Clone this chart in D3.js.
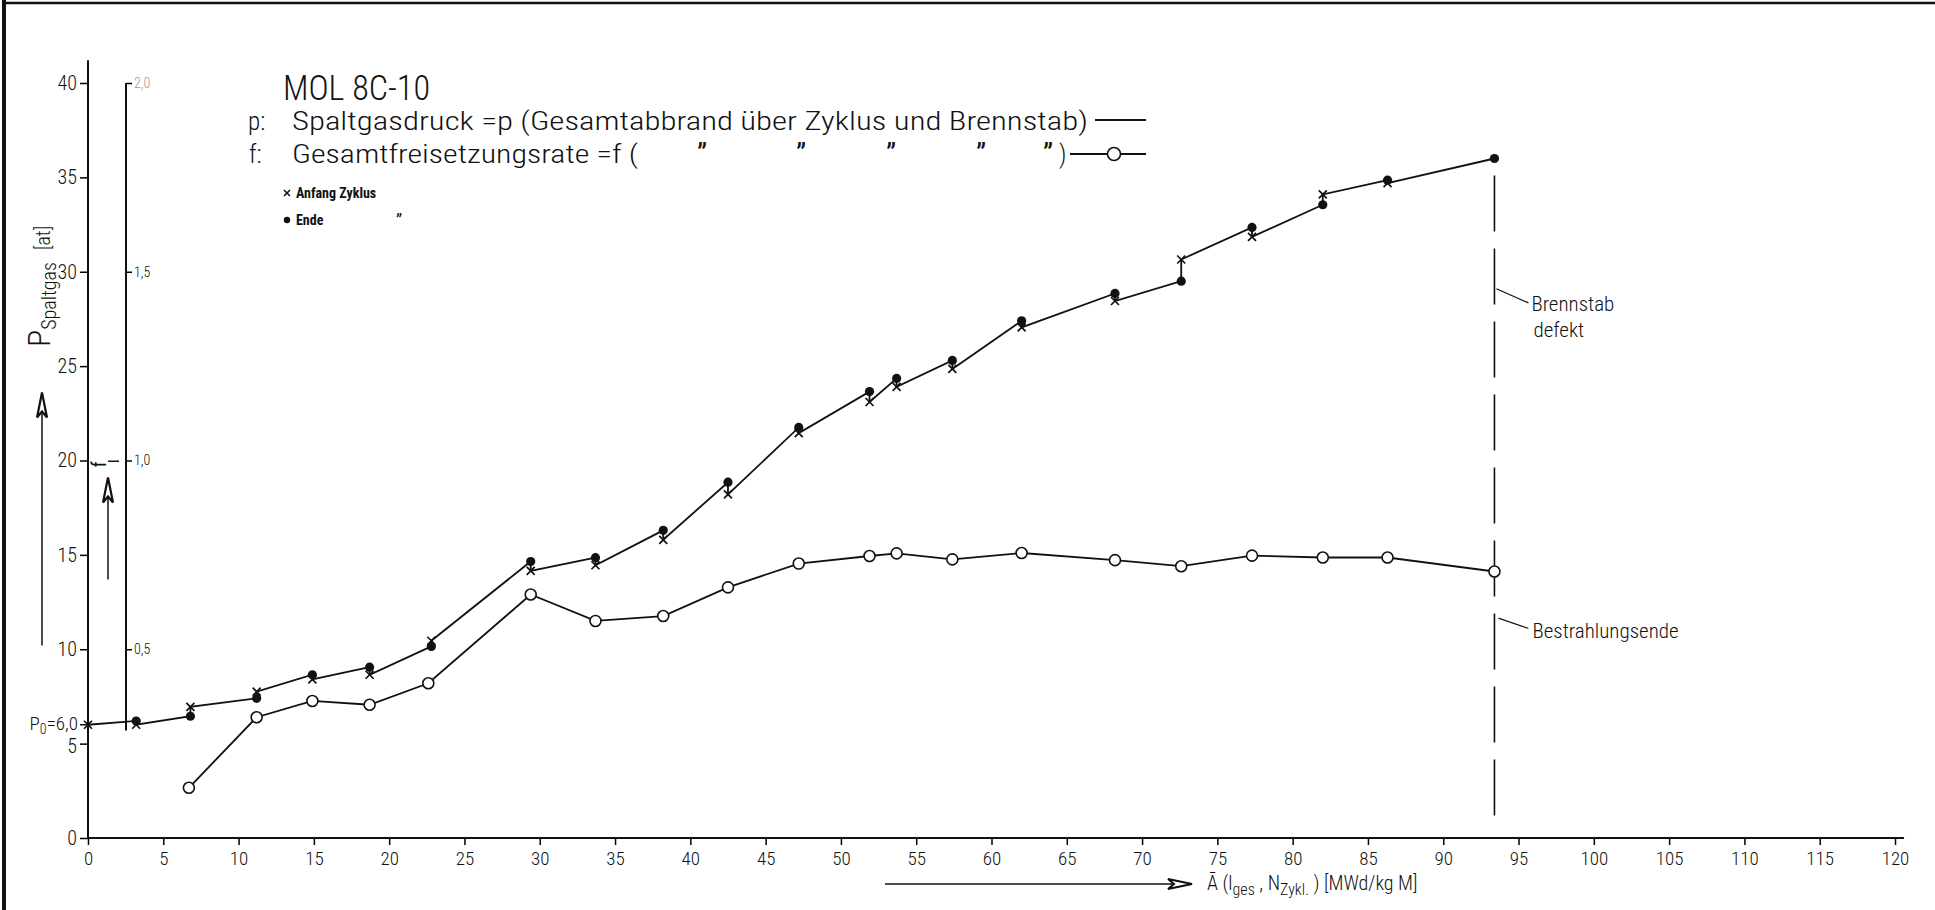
<!DOCTYPE html>
<html>
<head>
<meta charset="utf-8">
<script src="https://cdn.jsdelivr.net/npm/d3@7"></script>
<style>
  body { margin: 0; background: #fff; }
  svg text { font-family: "Roboto Condensed", "Roboto", "DejaVu Sans", sans-serif; font-weight: 300; fill: #111; }
</style>
</head>
<body>
<div id="chart"></div>
<script>
// burnup at every cycle boundary [MWd/kg M]
const burnup = [0, 3.2, 6.8, 11.2, 14.9, 18.7, 22.8, 29.4, 33.7, 38.2, 42.5, 47.2, 51.9, 53.7, 57.4, 62.0, 68.2, 72.6, 77.3, 82.0, 86.3, 93.4];
// fission gas pressure at cycle start (x) and at cycle end (dot) [at]
const pAnfang = [6.0, 6.0, 6.95, 7.75, 8.4, 8.65, 10.45, 14.15, 14.45, 15.8, 18.2, 21.45, 23.1, 23.9, 24.85, 27.05, 28.45, 30.65, 31.85, 34.1, 34.7, null];
const pEnde = [null, 6.2, 6.45, 7.4, 8.65, 9.05, 10.15, 14.65, 14.85, 16.3, 18.85, 21.75, 23.65, 24.35, 25.3, 27.4, 28.85, 29.5, 32.35, 33.55, 34.85, 36.0];
// total release rate f (open circles)
const fBurnup = [6.7, 11.2, 14.9, 18.7, 22.6, 29.4, 33.7, 38.2, 42.5, 47.2, 51.9, 53.7, 57.4, 62.0, 68.2, 72.6, 77.3, 82.0, 86.3, 93.4];
const fValues = [0.133, 0.32, 0.363, 0.353, 0.41, 0.645, 0.575, 0.588, 0.664, 0.727, 0.747, 0.754, 0.738, 0.755, 0.736, 0.72, 0.748, 0.743, 0.743, 0.706];

const xTicks = d3.range(0, 121, 5);
const pTicks = [0, 5, 10, 15, 20, 25, 30, 35, 40];
const fTicks = [0.5, 1.0, 1.5, 2.0];
const p0 = 6.0;            // initial pressure
const burnupEnd = 93.4;    // end of irradiation / rod defect

const svg = d3.select("#chart")
    .append("svg")
    .attr("width", 1935)
    .attr("height", 910);

// scales
const x = d3.scaleLinear().domain([0, 120]).range([88, 1895]);
const y = d3.scaleLinear().domain([0, 40]).range([838, 83]);
const f = d3.scaleLinear().domain([0, 2]).range([838, 83]);

// sheet frame (left + top)
svg.append("line").attr("x1", 4).attr("y1", 0).attr("x2", 4).attr("y2", 910)
    .attr("stroke", "#111").attr("stroke-width", 4);
svg.append("line").attr("x1", 3).attr("y1", 3).attr("x2", 1935).attr("y2", 3)
    .attr("stroke", "#111").attr("stroke-width", 2.5);

// X axis
const xAxis = svg.append("g")
    .attr("transform", "translate(0," + y(0) + ")")
    .call(d3.axisBottom(x).tickValues(xTicks).tickSize(7).tickPadding(7));
xAxis.select(".domain").remove();
xAxis.selectAll("line").attr("stroke-width", 1.5);
xAxis.selectAll("text").style("font-size", "19px");
svg.append("line")
    .attr("x1", x(0)).attr("x2", x(120.6))
    .attr("y1", y(0)).attr("y2", y(0))
    .attr("stroke", "#111").attr("stroke-width", 2);

// Y axis (pressure)
const yAxis = svg.append("g")
    .attr("transform", "translate(" + x(0) + ",0)")
    .call(d3.axisLeft(y).tickValues(pTicks).tickSize(8).tickPadding(3));
yAxis.select(".domain").remove();
yAxis.selectAll("line").attr("stroke-width", 1.5);
yAxis.selectAll("text").style("font-size", "20px");
yAxis.selectAll(".tick").filter(d => d === 5).select("text").attr("dy", "0.45em");
svg.append("line")
    .attr("x1", x(0)).attr("x2", x(0))
    .attr("y1", y(0)).attr("y2", y(41.2))
    .attr("stroke", "#111").attr("stroke-width", 2);

// P0 marker on the pressure axis
svg.append("line")
    .attr("x1", x(0) - 8).attr("x2", x(0))
    .attr("y1", y(p0)).attr("y2", y(p0))
    .attr("stroke", "#111").attr("stroke-width", 1.5);
const p0Label = svg.append("text")
    .attr("x", x(0) - 10).attr("y", y(p0) + 5)
    .attr("text-anchor", "end")
    .style("font-size", "19px");
p0Label.append("tspan").text("P");
p0Label.append("tspan").attr("dy", 4).style("font-size", "14px").text("0");
p0Label.append("tspan").attr("dy", -4).text("=6,0");

// f axis (release rate)
const fX = 126;
const fAxis = svg.append("g")
    .attr("transform", "translate(" + fX + ",0)")
    .call(d3.axisRight(f).tickValues(fTicks).tickSize(6).tickPadding(2)
        .tickFormat(d => d3.format(".1f")(d).replace(".", ",")));
fAxis.select(".domain").remove();
fAxis.selectAll("line").attr("stroke-width", 1.5);
fAxis.selectAll("text").style("font-size", "14px");
fAxis.selectAll(".tick").filter(d => d === 2).select("text").style("fill", "#999");
svg.append("line")
    .attr("x1", fX).attr("x2", fX)
    .attr("y1", f(0.285)).attr("y2", f(2))
    .attr("stroke", "#111").attr("stroke-width", 2);

// axis titles with arrows
function arrowUp(ax, yTop, yBottom) {
    svg.append("line").attr("x1", ax).attr("x2", ax).attr("y1", yBottom).attr("y2", yTop + 10)
        .attr("stroke", "#111").attr("stroke-width", 1.5);
    svg.append("path")
        .attr("d", `M${ax},${yTop} L${ax - 5},${yTop + 25} L${ax},${yTop + 19} L${ax + 5},${yTop + 25} Z`)
        .attr("fill", "#fff").attr("stroke", "#111").attr("stroke-width", 2.2);
}
arrowUp(42, y(23.6), y(10.2));
arrowUp(108, f(0.955), f(0.685));

const pTitle = svg.append("text")
    .attr("transform", "translate(50," + 347 + ") rotate(-90)")
    .style("font-size", "32px");
pTitle.append("tspan").text("P");
pTitle.append("tspan").attr("dy", 6).style("font-size", "20px").text("Spaltgas");
pTitle.append("tspan").attr("dy", -6).attr("dx", 12).style("font-size", "20px").text("[at]");

svg.append("text")
    .attr("transform", "translate(106," + f(0.99) + ") rotate(-90)")
    .attr("text-anchor", "middle")
    .style("font-size", "20px")
    .style("font-weight", 400)
    .text("f");
svg.append("line").attr("x1", 108).attr("x2", 119).attr("y1", f(0.99) - 3).attr("y2", f(0.99) - 3)
    .attr("stroke", "#111").attr("stroke-width", 1.5);

// x title with arrow
const xArrowY = 884;
svg.append("line").attr("x1", 885).attr("x2", 1175).attr("y1", xArrowY).attr("y2", xArrowY)
    .attr("stroke", "#111").attr("stroke-width", 1.5);
svg.append("path")
    .attr("d", `M1192,${xArrowY} L1168,${xArrowY - 5} L1174,${xArrowY} L1168,${xArrowY + 5} Z`)
    .attr("fill", "#fff").attr("stroke", "#111").attr("stroke-width", 2);
const xTitle = svg.append("text")
    .attr("x", 1207).attr("y", 890)
    .style("font-size", "20px");
xTitle.append("tspan").text("Ā  (l");
xTitle.append("tspan").attr("dy", 5).style("font-size", "16px").text("ges");
xTitle.append("tspan").attr("dy", -5).text(" , N");
xTitle.append("tspan").attr("dy", 5).style("font-size", "16px").text("Zykl.");
xTitle.append("tspan").attr("dy", -5).text(" ) [MWd/kg M]");

// pressure curve: start of cycle -> end of next cycle, with jumps at each boundary
const pPath = [];
burnup.forEach((b, i) => {
    if (pEnde[i] !== null) pPath.push([b, pEnde[i]]);
    if (pAnfang[i] !== null) pPath.push([b, pAnfang[i]]);
});
const pLine = d3.line().x(d => x(d[0])).y(d => y(d[1]));
svg.append("path")
    .attr("d", pLine(pPath))
    .attr("fill", "none")
    .attr("stroke", "#111")
    .attr("stroke-width", 1.8);

// release rate curve
const fPoints = fBurnup.map((b, i) => [b, fValues[i]]);
const fLine = d3.line().x(d => x(d[0])).y(d => f(d[1]));

// rod defect / end of irradiation dashed marker
svg.append("line")
    .attr("x1", x(burnupEnd)).attr("x2", x(burnupEnd))
    .attr("y1", y(35.1)).attr("y2", y(0.4))
    .attr("stroke", "#111").attr("stroke-width", 1.6)
    .attr("stroke-dasharray", "56,17");

svg.append("path")
    .attr("d", fLine(fPoints))
    .attr("fill", "none")
    .attr("stroke", "#111")
    .attr("stroke-width", 1.8);

// markers
const cross = "M-4,-4L4,4M-4,4L4,-4";
svg.selectAll(".anfang")
    .data(burnup.map((b, i) => [b, pAnfang[i]]).filter(d => d[1] !== null))
    .enter().append("path")
    .attr("class", "anfang")
    .attr("transform", d => "translate(" + x(d[0]) + "," + y(d[1]) + ")")
    .attr("d", cross)
    .attr("stroke", "#111").attr("stroke-width", 1.7);
svg.selectAll(".ende")
    .data(burnup.map((b, i) => [b, pEnde[i]]).filter(d => d[1] !== null))
    .enter().append("circle")
    .attr("class", "ende")
    .attr("cx", d => x(d[0])).attr("cy", d => y(d[1]))
    .attr("r", 4.6)
    .attr("fill", "#111");
svg.selectAll(".frate")
    .data(fPoints)
    .enter().append("circle")
    .attr("class", "frate")
    .attr("cx", d => x(d[0])).attr("cy", d => f(d[1]))
    .attr("r", 5.5)
    .attr("fill", "#fff").attr("stroke", "#111").attr("stroke-width", 1.6);

// annotations
const xe = x(burnupEnd);
svg.append("line").attr("x1", xe + 2).attr("y1", y(29.1)).attr("x2", xe + 34).attr("y2", y(28.35))
    .attr("stroke", "#111").attr("stroke-width", 1.2);
svg.append("text").attr("x", xe + 37).attr("y", 311).style("font-size", "21px").text("Brennstab");
svg.append("text").attr("x", xe + 39).attr("y", 337).style("font-size", "21px").text("defekt");
svg.append("line").attr("x1", xe + 4).attr("y1", y(11.65)).attr("x2", xe + 34).attr("y2", y(11.1))
    .attr("stroke", "#111").attr("stroke-width", 1.2);
svg.append("text").attr("x", xe + 38).attr("y", 638).style("font-size", "21px").text("Bestrahlungsende");

// title and legend
svg.append("text")
    .attr("x", 283).attr("y", 100)
    .attr("textLength", 147).attr("lengthAdjust", "spacingAndGlyphs")
    .style("font-size", "35px")
    .text("MOL 8C-10");

svg.append("text").attr("x", 248).attr("y", 130).style("font-size", "25px").text("p:");
svg.append("text").attr("x", 292).attr("y", 130)
    .attr("textLength", 796).attr("lengthAdjust", "spacingAndGlyphs")
    .style("font-size", "25px")
    .text("Spaltgasdruck =p (Gesamtabbrand über Zyklus und Brennstab)");
svg.append("line").attr("x1", 1095).attr("x2", 1146).attr("y1", 120).attr("y2", 120)
    .attr("stroke", "#111").attr("stroke-width", 2);

svg.append("text").attr("x", 249).attr("y", 163).style("font-size", "25px").text("f:");
svg.append("text").attr("x", 292).attr("y", 163)
    .attr("textLength", 346).attr("lengthAdjust", "spacingAndGlyphs")
    .style("font-size", "25px")
    .text("Gesamtfreisetzungsrate =f (");
[697, 796, 886, 976, 1043].forEach(dx => {
    svg.append("text").attr("x", dx).attr("y", 164).style("font-size", "30px").style("font-weight", 400).text("\u201D");
});
svg.append("text").attr("x", 1059).attr("y", 163).style("font-size", "25px").text(")");
svg.append("line").attr("x1", 1070).attr("x2", 1146).attr("y1", 154).attr("y2", 154)
    .attr("stroke", "#111").attr("stroke-width", 2);
svg.append("circle").attr("cx", 1114).attr("cy", 154).attr("r", 6.5)
    .attr("fill", "#fff").attr("stroke", "#111").attr("stroke-width", 1.6);

svg.append("path").attr("transform", "translate(287,193)").attr("d", "M-3,-3L3,3M-3,3L3,-3")
    .attr("stroke", "#111").attr("stroke-width", 1.6);
svg.append("text").attr("x", 296).attr("y", 198).style("font-size", "14px").style("font-weight", "bold")
    .text("Anfang  Zyklus");
svg.append("circle").attr("cx", 287).attr("cy", 220).attr("r", 3.2).attr("fill", "#111");
svg.append("text").attr("x", 296).attr("y", 225).style("font-size", "14px").style("font-weight", "bold")
    .text("Ende");
svg.append("text").attr("x", 396).attr("y", 227).style("font-size", "18px").style("font-weight", 400).text("\u201D");
</script>
</body>
</html>
